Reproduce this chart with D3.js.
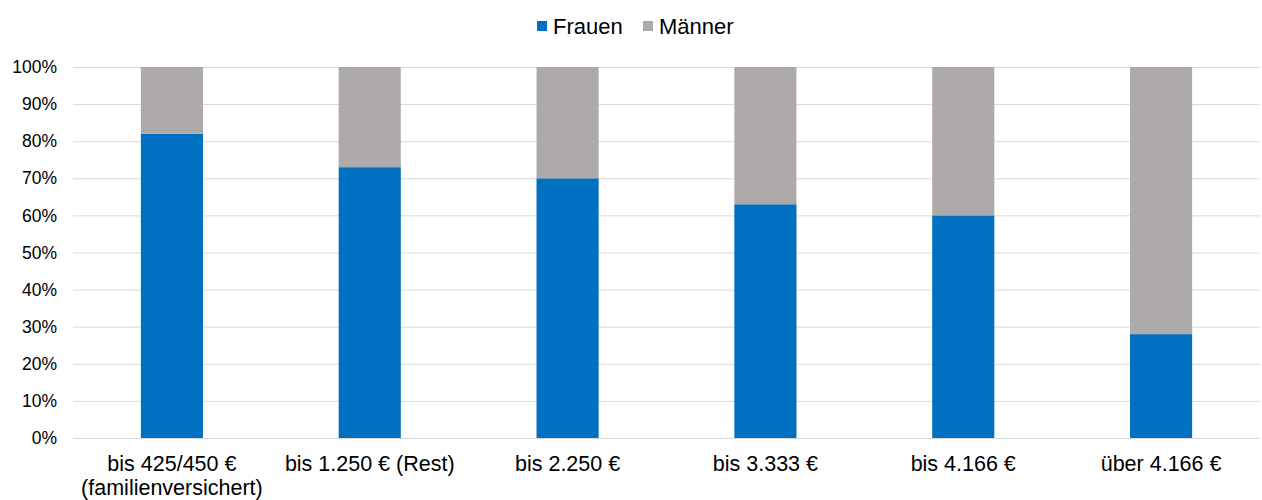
<!DOCTYPE html>
<html>
<head>
<meta charset="utf-8">
<script src="https://cdn.jsdelivr.net/npm/d3@7"></script>
<style>
  body { margin: 0; background: #fff; }
  svg { display: block; font-family: "Liberation Sans", Arial, sans-serif; }
</style>
</head>
<body>
<svg id="chart" width="1262" height="500"></svg>
<script>
// Data
const categories = [
  ['bis 425/450 €', '(familienversichert)'],
  ['bis 1.250 € (Rest)'],
  ['bis 2.250 €'],
  ['bis 3.333 €'],
  ['bis 4.166 €'],
  ['über 4.166 €']
];
const frauen = [82, 73, 70, 63, 60, 28];
const maenner = [18, 27, 30, 37, 40, 72];
const seriesNames = ['Frauen', 'Männer'];
const colors = ['#0070c0', '#aeaaaa'];
const yTicks = [0, 10, 20, 30, 40, 50, 60, 70, 80, 90, 100];

const svg = d3.select('#chart');
const margin = { left: 73, right: 2, top: 67, bottom: 62 };
const width = 1262, height = 500;

const x = d3.scaleBand()
  .domain(d3.range(categories.length))
  .range([margin.left, width - margin.right])
  .paddingInner(0.686)
  .paddingOuter(0.343);

const y = d3.scaleLinear()
  .domain([0, 100])
  .range([height - margin.bottom, margin.top]);

// Gridlines
svg.append('g')
  .selectAll('line')
  .data(yTicks)
  .join('line')
  .attr('x1', margin.left)
  .attr('x2', width - margin.right)
  .attr('y1', d => y(d) + 0.5)
  .attr('y2', d => y(d) + 0.5)
  .attr('stroke', '#d9d9d9')
  .attr('stroke-width', 1);

// Y axis labels
svg.append('g')
  .selectAll('text')
  .data(yTicks)
  .join('text')
  .attr('x', 57)
  .attr('y', d => y(d))
  .attr('dy', '0.35em')
  .attr('text-anchor', 'end')
  .attr('font-size', 17.5)
  .attr('fill', '#000')
  .text(d => d + '%');

// Stacked bars
const rows = categories.map((c, i) => ({ i, Frauen: frauen[i], 'Männer': maenner[i] }));
const stack = d3.stack().keys(seriesNames)(rows);

svg.append('g')
  .selectAll('g')
  .data(stack)
  .join('g')
  .attr('fill', (d, k) => colors[k])
  .selectAll('rect')
  .data(d => d)
  .join('rect')
  .attr('x', d => x(d.data.i))
  .attr('width', x.bandwidth())
  .attr('y', d => y(d[1]))
  .attr('height', d => y(d[0]) - y(d[1]));

// Category labels (one text element per line)
const catLines = categories.flatMap((lines, i) => lines.map((t, j) => ({ i, j, t })));
svg.append('g')
  .selectAll('text')
  .data(catLines)
  .join('text')
  .attr('x', d => x(d.i) + x.bandwidth() / 2)
  .attr('y', d => 471 + d.j * 24)
  .attr('text-anchor', 'middle')
  .attr('font-size', 21.5)
  .attr('fill', '#000')
  .text(d => d.t);

// Legend
const legendX = [537, 643];
const legend = svg.append('g')
  .selectAll('g')
  .data(seriesNames)
  .join('g')
  .attr('transform', (d, i) => `translate(${legendX[i]},0)`);
legend.append('rect')
  .attr('x', 0).attr('y', 21)
  .attr('width', 10).attr('height', 10)
  .attr('fill', (d, i) => colors[i]);
legend.append('text')
  .attr('x', 16).attr('y', 34)
  .attr('font-size', 22)
  .attr('fill', '#000')
  .text(d => d);
</script>
</body>
</html>
